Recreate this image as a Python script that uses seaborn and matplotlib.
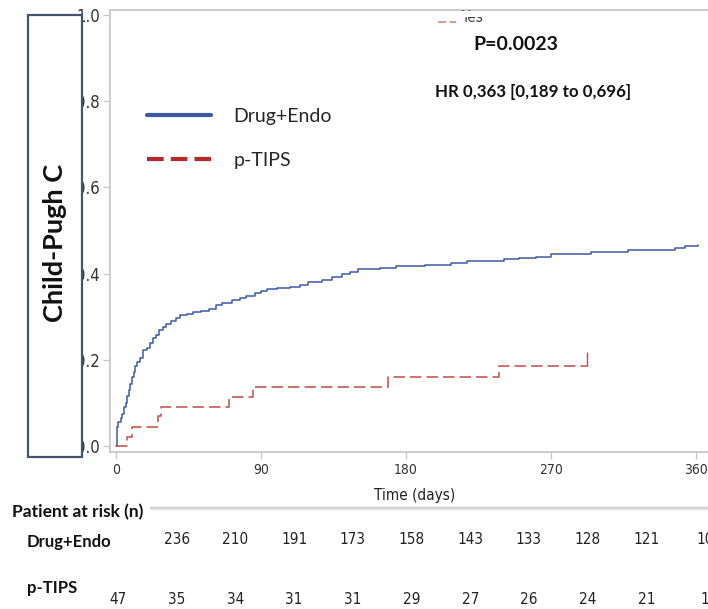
import numpy as np
import pandas as pd
import seaborn as sns
import matplotlib.pyplot as plt
from matplotlib.lines import Line2D
from matplotlib.patches import Rectangle

sns.set_theme(style="white")
plt.rcParams['font.family'] = ['DejaVu Sans']
plt.rcParams['font.stretch'] = 'condensed'

# cumulative incidence (step starts)
endo_t = [0, 0.5, 1.5, 3, 4, 5, 6, 7, 8, 9, 10, 11, 12, 13, 15, 17, 19, 21, 23, 25,
          27, 29, 31, 34, 37, 40, 44, 48, 53, 58, 62, 66, 72, 77, 81, 86, 90, 94, 100,
          108, 114, 119, 128, 134, 140, 145, 150, 164, 174, 192, 208, 218, 241, 250,
          261, 270, 295, 318, 347, 353, 361]
endo_y = [0, 0.045, 0.056, 0.065, 0.075, 0.09, 0.10, 0.115, 0.13, 0.145, 0.16, 0.172,
          0.185, 0.196, 0.205, 0.222, 0.228, 0.24, 0.25, 0.258, 0.268, 0.276, 0.283,
          0.29, 0.298, 0.303, 0.307, 0.31, 0.313, 0.318, 0.327, 0.332, 0.338, 0.343,
          0.348, 0.354, 0.36, 0.365, 0.367, 0.37, 0.373, 0.38, 0.385, 0.393, 0.399,
          0.404, 0.41, 0.413, 0.418, 0.421, 0.425, 0.43, 0.434, 0.436, 0.439, 0.445,
          0.449, 0.455, 0.459, 0.464, 0.467]
tips_t = [0, 7, 10, 26, 28, 70, 85, 169, 238, 292.6]
tips_y = [0, 0.022, 0.043, 0.07, 0.091, 0.114, 0.138, 0.161, 0.186, 0.186]
tips_censor = [292.6]

risk_endo = ["", "236", "210", "191", "173", "158", "143", "133", "128", "121", "10"]
risk_tips = ["47", "35", "34", "31", "31", "29", "27", "26", "24", "21", "1"]

df_endo = pd.DataFrame({"t": endo_t, "ci": endo_y})
df_tips = pd.DataFrame({"t": tips_t, "ci": tips_y})

W, H = 708, 609
fig = plt.figure(figsize=(W / 100, H / 100), dpi=100)
fig.patch.set_facecolor("white")


def fx(px):
    return px / W


def fy(py):
    return 1 - py / H


ax = fig.add_axes([fx(110), fy(452), fx(720) - fx(110), fy(10) - fy(452)])

blue = "#3d5aa6"
red = "#c24a44"
sns.lineplot(data=df_endo, x="t", y="ci", drawstyle="steps-post", color=blue,
             lw=1.1, ax=ax, estimator=None, sort=False)
sns.lineplot(data=df_tips, x="t", y="ci", drawstyle="steps-post", color=red,
             lw=1.1, ax=ax, estimator=None, sort=False, dashes=False)
ax.lines[-1].set_dashes([7.5, 3.3])
ax.plot(tips_censor, [0.202], marker="|", ms=10, mew=1.0, color=red, ls="none")

ax.set_xlim(-3.7, (720 - 116) / 1.611)
ax.set_ylim(-6 / 431, 1 + 5 / 431)
ax.set_xticks([0, 90, 180, 270, 360])
ax.set_yticks([0, 0.2, 0.4, 0.6, 0.8, 1.0])
ax.set_yticklabels(["0.0", "0.2", "0.4", "0.6", "0.8", "1.0"])
ax.set_xlabel("Time (days)", fontsize=11, color="#222222", labelpad=8)
ax.set_ylabel("")
for s in ax.spines.values():
    s.set_color("#c8c8c8")
    s.set_linewidth(1.3)
ax.tick_params(axis="both", direction="out", length=5, width=1, color="#c8c8c8",
               labelsize=10, labelcolor="#333333", pad=3, left=True, bottom=True)
ax.tick_params(axis="y", labelsize=12, pad=2.5)

# legend overlay
h1 = Line2D([], [], color="#3c5aa8", lw=3)
h2 = Line2D([], [], color="#b52a2a", lw=3, dashes=[4, 1.7])
leg = ax.legend([h1, h2], ["Drug+Endo", "p-TIPS"], loc="upper left",
                bbox_to_anchor=(fx(147), fy(108)), bbox_transform=fig.transFigure,
                frameon=False, handlelength=3.3, handletextpad=1.15, labelspacing=1.4,
                borderpad=0, borderaxespad=0,
                prop={"family": ["Lato", "DejaVu Sans"], "size": 14, "stretch": "normal"})

# clipped "Yes" legend remnant
ax.plot([0.538, 0.568], [0.972, 0.972], transform=ax.transAxes, color="#d98a86", lw=1.2,
        dashes=[5, 2])
ax.text(0.575, 0.966, "Yes", transform=ax.transAxes, fontsize=11, color="#444444",
        va="bottom", ha="left")
fig.add_artist(Rectangle((fx(425), fy(17)), fx(90), fy(11) - fy(17),
                         transform=fig.transFigure, facecolor="white", edgecolor="none",
                         zorder=5))

cal = ["Lato", "DejaVu Sans"]
fig.text(fx(516), fy(45), "P=0.0023", fontsize=14, fontweight="bold", family=cal,
         stretch="normal", ha="center", va="center", color="#111111")
fig.text(fx(533), fy(92), "HR 0,363 [0,189 to 0,696]", fontsize=12.2, fontweight="bold",
         family=cal, stretch="normal", ha="center", va="center", color="#111111")

# Child-Pugh box
fig.add_artist(Rectangle((fx(28), fy(457)), fx(82) - fx(28), fy(15) - fy(457),
                         transform=fig.transFigure, facecolor="white",
                         edgecolor="#44546a", lw=1.6, zorder=4))
fig.text(fx(55), fy(243), "Child-Pugh C", rotation=90, fontsize=19.5, fontweight="bold",
         family=cal, stretch="normal", ha="center", va="center", color="#111111", zorder=6)

# shadow under the axis label
for i, a in enumerate([0.35, 0.22, 0.12, 0.05]):
    fig.add_artist(Line2D([fx(150), 1], [fy(507 + i), fy(507 + i)],
                          transform=fig.transFigure, color="#777777", alpha=a, lw=1))

# risk table
fig.text(fx(12), fy(512), "Patient at risk (n)", fontsize=12.5, fontweight="bold",
         family=cal, stretch="normal", ha="left", va="center", color="#111111")
fig.text(fx(27), fy(542), "Drug+Endo", fontsize=12, fontweight="bold",
         family=cal, stretch="normal", ha="left", va="center", color="#111111")
fig.text(fx(27), fy(588), "p-TIPS", fontsize=12, fontweight="bold",
         family=cal, stretch="normal", ha="left", va="center", color="#111111")
for i, (a, b) in enumerate(zip(risk_endo, risk_tips)):
    xp = 118 + 58.7 * i
    fig.text(fx(xp), fy(540), a, fontsize=11, ha="center", va="center", color="#222222")
    fig.text(fx(xp), fy(600), b, fontsize=11, ha="center", va="center", color="#222222")

fig.savefig("out.png", dpi=100)
